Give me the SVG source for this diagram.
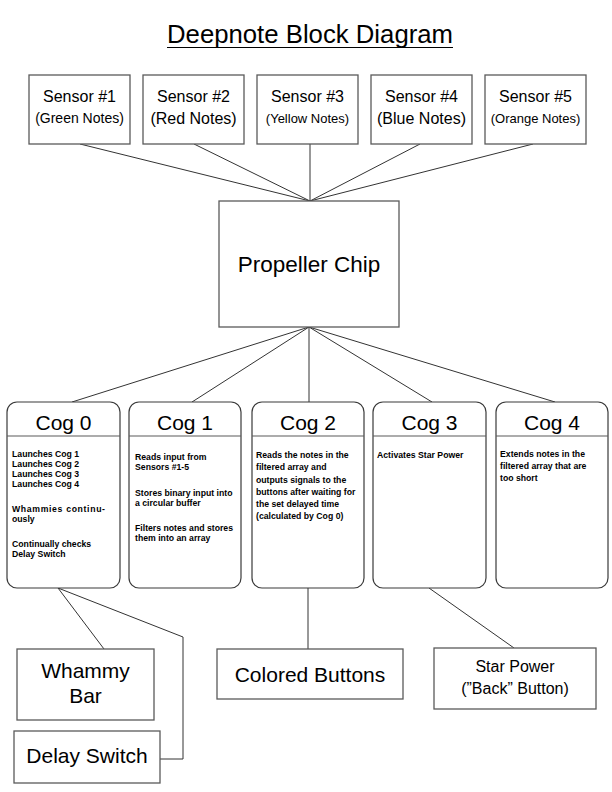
<svg xmlns="http://www.w3.org/2000/svg" width="612" height="792" viewBox="0 0 612 792">
<style>
.box{fill:#fff;stroke:#5a5a5a;stroke-width:1.3}
.cog{fill:#fff;stroke:#3a3a3a;stroke-width:1.2}
.div{stroke:#5a5a5a;stroke-width:1.2}
.con{stroke:#333;stroke-width:1;fill:none}
text{font-family:"Liberation Sans",Arial,sans-serif;fill:#000}
.t17{font-size:16px;text-anchor:middle}
.t14{font-size:14px;text-anchor:middle}
.t12{font-size:13px;text-anchor:middle}
.ct{font-size:21px;text-anchor:middle}
.b{font-size:8.7px;font-weight:bold}
.big{font-size:21px;text-anchor:middle}
</style>
<rect width="612" height="792" fill="#fff"/>
<g id="title">
<text x="310" y="43" font-size="26" text-anchor="middle" textLength="286" lengthAdjust="spacingAndGlyphs">Deepnote Block Diagram</text>
<line x1="167" y1="47.5" x2="453" y2="47.5" stroke="#000" stroke-width="1.2"/>
</g>
<g id="connectors">
<line class="con" x1="80" y1="144" x2="310" y2="201"/>
<line class="con" x1="194" y1="144" x2="310" y2="201"/>
<line class="con" x1="310" y1="144" x2="310" y2="201"/>
<line class="con" x1="420" y1="144" x2="310" y2="201"/>
<line class="con" x1="533" y1="144" x2="310" y2="201"/>
<line class="con" x1="309" y1="327" x2="72" y2="402"/>
<line class="con" x1="309" y1="327" x2="192" y2="402"/>
<line class="con" x1="309" y1="327" x2="309" y2="402"/>
<line class="con" x1="309" y1="327" x2="432" y2="402"/>
<line class="con" x1="309" y1="327" x2="555" y2="402"/>
<line class="con" x1="58" y1="588" x2="104" y2="649"/>
<polyline class="con" points="58,588 183,637 183,759 160,759"/>
<line class="con" x1="308" y1="588" x2="308" y2="649"/>
<line class="con" x1="429" y1="588" x2="514" y2="648"/>
</g>
<g id="sensor1"><rect class="box" x="29" y="75" width="101" height="69"/><text class="t17" x="79.5" y="102">Sensor #1</text><text class="t14" x="79.5" y="123">(Green Notes)</text></g>
<g id="sensor2"><rect class="box" x="143" y="75" width="101" height="69"/><text class="t17" x="193.5" y="102">Sensor #2</text><text class="t17" x="193.5" y="124">(Red Notes)</text></g>
<g id="sensor3"><rect class="box" x="257" y="75" width="101" height="69"/><text class="t17" x="307.5" y="102">Sensor #3</text><text class="t12" x="307.5" y="123">(Yellow Notes)</text></g>
<g id="sensor4"><rect class="box" x="371" y="75" width="101" height="69"/><text class="t17" x="421.5" y="102">Sensor #4</text><text class="t17" x="421.5" y="124">(Blue Notes)</text></g>
<g id="sensor5"><rect class="box" x="485" y="75" width="101" height="69"/><text class="t17" x="535.5" y="102">Sensor #5</text><text class="t12" x="535.5" y="123" font-size="12.5">(Orange Notes)</text></g>
<g id="propeller"><rect class="box" x="219" y="201" width="180" height="126"/><text x="309" y="272" font-size="22.5" text-anchor="middle">Propeller Chip</text></g>
<g id="cog0"><rect class="cog" x="7" y="402" width="113" height="186" rx="10"/><line class="div" x1="7" y1="436" x2="120" y2="436"/><text class="ct" x="63.5" y="430">Cog 0</text>
<text class="b" x="12" y="457">Launches Cog 1</text><text class="b" x="12" y="467">Launches Cog 2</text><text class="b" x="12" y="477">Launches Cog 3</text><text class="b" x="12" y="487">Launches Cog 4</text>
<text class="b" x="12" y="512" textLength="93">Whammies continu-</text><text class="b" x="12" y="521.5">ously</text>
<text class="b" x="12" y="547">Continually checks</text><text class="b" x="12" y="557">Delay Switch</text></g>
<g id="cog1"><rect class="cog" x="129" y="402" width="112" height="186" rx="10"/><line class="div" x1="129" y1="436" x2="241" y2="436"/><text class="ct" x="185" y="430">Cog 1</text>
<text class="b" x="135" y="460">Reads input from</text><text class="b" x="135" y="470">Sensors #1-5</text>
<text class="b" x="135" y="496">Stores binary input into</text><text class="b" x="135" y="506">a circular buffer</text>
<text class="b" x="135" y="531">Filters notes and stores</text><text class="b" x="135" y="541">them into an array</text></g>
<g id="cog2"><rect class="cog" x="252" y="402" width="112" height="186" rx="10"/><line class="div" x1="252" y1="436" x2="364" y2="436"/><text class="ct" x="308" y="430">Cog 2</text>
<text class="b" x="256" y="458">Reads the notes in the</text><text class="b" x="256" y="470">filtered array and</text><text class="b" x="256" y="482.5">outputs signals to the</text><text class="b" x="256" y="494.5">buttons after waiting for</text><text class="b" x="256" y="506.5">the set delayed time</text><text class="b" x="256" y="518.5">(calculated by Cog 0)</text></g>
<g id="cog3"><rect class="cog" x="373" y="402" width="113" height="186" rx="10"/><line class="div" x1="373" y1="436" x2="486" y2="436"/><text class="ct" x="429.5" y="430">Cog 3</text>
<text class="b" x="377" y="458">Activates Star Power</text></g>
<g id="cog4"><rect class="cog" x="496" y="402" width="112" height="186" rx="10"/><line class="div" x1="496" y1="436" x2="608" y2="436"/><text class="ct" x="552" y="430">Cog 4</text>
<text class="b" x="500" y="457">Extends notes in the</text><text class="b" x="500" y="469">filtered array that are</text><text class="b" x="500" y="481">too short</text></g>
<g id="whammy"><rect class="box" x="17" y="649" width="137" height="71"/><text class="big" x="85.5" y="678">Whammy</text><text class="big" x="85.5" y="703">Bar</text></g>
<g id="delay"><rect class="box" x="14" y="731" width="146" height="52"/><text class="big" x="87" y="763" font-size="20">Delay Switch</text></g>
<g id="buttons"><rect class="box" x="217" y="649" width="186" height="50"/><text class="big" x="310" y="682" font-size="22">Colored Buttons</text></g>
<g id="starpower"><rect class="box" x="434" y="648" width="162" height="61"/><text class="t17" x="515" y="672">Star Power</text><text class="t17" x="515" y="694">(”Back” Button)</text></g>
</svg>
